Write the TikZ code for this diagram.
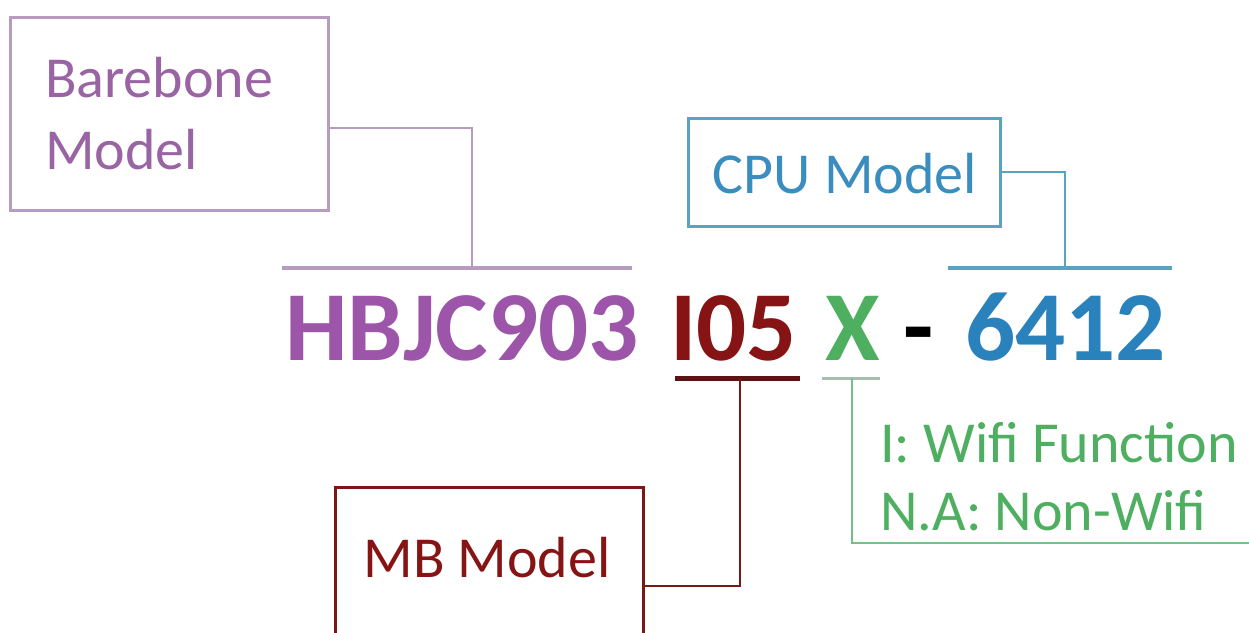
\documentclass[tikz,border=0pt]{standalone}
\usepackage{fontspec}
\setmainfont{Carlito}
\definecolor{bbline}{HTML}{B79CC0}
\definecolor{bbtext}{HTML}{9A64A4}
\definecolor{hbcol}{HTML}{9C55A8}
\definecolor{mbcol}{HTML}{861414}
\definecolor{mbline}{HTML}{7A1818}
\definecolor{mbbarcol}{HTML}{5A1414}
\definecolor{xcol}{HTML}{4DAF5F}
\definecolor{xline}{HTML}{72C188}
\definecolor{xbarcol}{HTML}{A9BDAE}
\definecolor{numcol}{HTML}{2A82BC}
\definecolor{cputext}{HTML}{3A8DBF}
\definecolor{cpuline}{HTML}{5AA3C0}
\begin{document}
\begin{tikzpicture}[x=1pt,y=-1pt,
  code/.style={anchor=base west,inner sep=0pt,font=\fontsize{99}{110}\selectfont\bfseries},
  lbl/.style={inner sep=0pt,font=\fontsize{58}{72}\selectfont},
  boxline/.style={line width=3pt},
  conn/.style={line width=2.8pt}]
\useasboundingbox[fill=white] (0,0) rectangle (1249,632);
% boxes
\node[draw=bbline,boxline,minimum width=318pt,minimum height=193pt,inner sep=0pt,
  text width=248pt,align=left,text=bbtext,font=\fontsize{58}{72}\selectfont] (bb) at (169,113.5) {Barebone\\Model};
\node[draw=cpuline,boxline,minimum width=312pt,minimum height=108pt,inner sep=0pt] (cpu) at (844,172) {};
\node[lbl,text=cputext] (cputxt) at (845,174) {CPU Model};
\node[draw=mbline,boxline,minimum width=308pt,minimum height=170pt,inner sep=0pt] (mbbox) at (489,572) {};
\node[lbl,text=mbcol] (mbtxt) at (487,558) {MB Model};
% code
\node[code,text=hbcol] (hb) at (285,360) {HBJC903};
\node[code,text=mbcol] (io) at (670,360) {I05};
\node[code,text=xcol] (xx) at (825,360) {X};
\node[code,text=black] (dash) at (903,360) {-};
\node[code,text=numcol] (num) at (965,360) {6412};
% green text
\node[lbl,anchor=base west,text=xcol] (wifi) at (880,462) {I: Wifi Function};
\node[lbl,anchor=base west,text=xcol] (nowifi) at (880,530) {N.A: Non-Wifi};
% bars
\coordinate (hbL) at (282,268); \coordinate (hbR) at (632,268); \coordinate (hbT) at (472,268);
\coordinate (nuL) at (948,268); \coordinate (nuR) at (1172,268); \coordinate (nuT) at (1065,268);
\coordinate (ioL) at (675,378); \coordinate (ioR) at (800,378); \coordinate (ioT) at (740,378);
\coordinate (xL) at (822,378); \coordinate (xR) at (880,378); \coordinate (xT) at (852,378);
\coordinate (xEnd) at (1252,543);
\draw[bbline,line width=3.5pt] (hbL) -- (hbR);
\draw[cpuline,line width=3.5pt] (nuL) -- (nuR);
\draw[mbbarcol,line width=5pt] (ioL) -- (ioR);
\draw[xbarcol,line width=3pt] (xL) -- (xR);
% connectors
\draw[bbline,conn] ([yshift=-14.5pt]bb.east) -| (hbT);
\draw[cpuline,conn] (cpu.east) -| (nuT);
\draw[mbline,conn] (ioT) |- ([yshift=-14pt]mbbox.east);
\draw[xline,conn] (xT) |- (xEnd);
\end{tikzpicture}
\end{document}
